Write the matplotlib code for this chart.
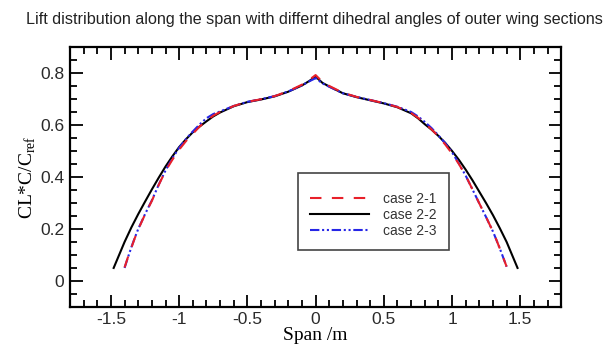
import matplotlib
matplotlib.use("Agg")
import matplotlib.pyplot as plt
from matplotlib.ticker import MultipleLocator, FuncFormatter

TITLE = "Lift distribution along the span with differnt dihedral angles of outer wing sections"

# spanwise stations (m) and sectional lift CL*C/Cref for each case
span_2_1 = [-1.40, -1.375, -1.35, -1.325, -1.30, -1.25, -1.20, -1.15, -1.10, -1.05, -1.00,
            -0.95, -0.90, -0.85, -0.80, -0.75, -0.70, -0.60, -0.50, -0.40, -0.30, -0.20,
            -0.10, -0.05, 0.00, 0.05, 0.10, 0.20, 0.30, 0.40, 0.50, 0.60, 0.70, 0.75,
            0.80, 0.85, 0.90, 0.95, 1.00, 1.05, 1.10, 1.15, 1.20, 1.25, 1.30, 1.325, 1.35,
            1.375, 1.40]
cl_2_1 = [0.052, 0.092, 0.128, 0.165, 0.198, 0.256, 0.308, 0.369, 0.423, 0.466, 0.505,
          0.538, 0.566, 0.594, 0.616, 0.636, 0.650, 0.673, 0.689, 0.699, 0.711, 0.730,
          0.755, 0.772, 0.792, 0.766, 0.750, 0.724, 0.708, 0.696, 0.684, 0.669, 0.646, 0.628,
          0.606, 0.583, 0.556, 0.525, 0.490, 0.450, 0.405, 0.352, 0.298, 0.245, 0.190,
          0.158, 0.125, 0.090, 0.055]

span_2_2 = [-1.48, -1.44, -1.40, -1.35, -1.30, -1.25, -1.20, -1.15, -1.10, -1.05, -1.00,
            -0.95, -0.90, -0.85, -0.80, -0.75, -0.70, -0.60, -0.50, -0.40, -0.30, -0.20,
            -0.10, -0.05, 0.00, 0.05, 0.10, 0.20, 0.30, 0.40, 0.50, 0.60, 0.70, 0.75,
            0.80, 0.85, 0.90, 0.95, 1.00, 1.05, 1.10, 1.15, 1.20, 1.25, 1.30, 1.35, 1.40,
            1.44, 1.48]
cl_2_2 = [0.050, 0.100, 0.150, 0.206, 0.257, 0.305, 0.352, 0.397, 0.440, 0.479, 0.515,
          0.545, 0.572, 0.594, 0.614, 0.633, 0.648, 0.672, 0.688, 0.698, 0.710, 0.728,
          0.752, 0.768, 0.786, 0.762, 0.748, 0.722, 0.707, 0.695, 0.683, 0.668, 0.645, 0.626,
          0.603, 0.582, 0.558, 0.531, 0.500, 0.466, 0.428, 0.387, 0.343, 0.299, 0.253,
          0.203, 0.150, 0.100, 0.050]

span_2_3 = [-1.40, -1.375, -1.35, -1.325, -1.30, -1.25, -1.20, -1.15, -1.10, -1.05, -1.00,
            -0.95, -0.90, -0.85, -0.80, -0.75, -0.70, -0.60, -0.50, -0.40, -0.30, -0.20,
            -0.10, -0.05, 0.00, 0.05, 0.10, 0.20, 0.30, 0.40, 0.50, 0.60, 0.70, 0.75,
            0.80, 0.85, 0.90, 0.95, 1.00, 1.05, 1.10, 1.15, 1.20, 1.25, 1.30, 1.325, 1.35,
            1.375, 1.40]
cl_2_3 = [0.050, 0.091, 0.130, 0.166, 0.200, 0.257, 0.310, 0.370, 0.425, 0.472, 0.512,
          0.546, 0.575, 0.602, 0.626, 0.642, 0.652, 0.673, 0.689, 0.699, 0.711, 0.729,
          0.752, 0.767, 0.780, 0.760, 0.747, 0.722, 0.708, 0.696, 0.684, 0.670, 0.650, 0.633,
          0.612, 0.588, 0.560, 0.530, 0.495, 0.452, 0.405, 0.352, 0.298, 0.245, 0.190,
          0.158, 0.125, 0.090, 0.055]

labels = ["case 2-1", "case 2-2", "case 2-3"]

fig = plt.figure(figsize=(6.14, 3.48), dpi=100)
ax = fig.add_axes([0.114, 0.118, 0.800, 0.747])

lw = 1.5
ax.plot(span_2_2, cl_2_2, color="black", lw=lw, label=labels[1], zorder=2)
ax.plot(span_2_3, cl_2_3, color="#2626e6", lw=lw, label=labels[2],
        dashes=(4.5, 1.3, 1.0, 1.3, 1.0, 1.3), zorder=3)
ax.plot(span_2_1, cl_2_1, color="#e8202a", lw=lw, label=labels[0],
        dashes=(5.5, 5.0), zorder=4)

ax.set_xlim(-1.8, 1.8)
ax.set_ylim(-0.1, 0.9)
ax.xaxis.set_major_locator(MultipleLocator(0.5))
ax.xaxis.set_minor_locator(MultipleLocator(0.1))
ax.yaxis.set_major_locator(MultipleLocator(0.2))
ax.yaxis.set_minor_locator(MultipleLocator(0.05))
ax.xaxis.set_major_formatter(FuncFormatter(lambda v, p: f"{v:g}"))
ax.yaxis.set_major_formatter(FuncFormatter(lambda v, p: f"{v:g}"))

ax.tick_params(which="both", direction="in", top=True, right=True, width=1.3,
               colors="black", labelcolor="#2a2a2a", labelsize=12.5, pad=4)
ax.tick_params(which="major", length=9)
ax.tick_params(which="minor", length=5)
for s in ax.spines.values():
    s.set_linewidth(1.6)

ax.set_xlabel("Span /m", family="Liberation Serif", fontsize=14, labelpad=0)
ax.set_ylabel(r"CL*C/C$_{\mathregular{ref}}$", family="Liberation Serif", fontsize=14,
              labelpad=2)
for t in ax.get_xticklabels() + ax.get_yticklabels():
    t.set_family("Liberation Sans")

fig.text(0.512, 0.943, TITLE, ha="center", va="center", family="Liberation Sans",
         fontsize=11.6, color="#222222")

handles, labs = ax.get_legend_handles_labels()
order = [labs.index(l) for l in labels]
leg = ax.legend([handles[i] for i in order], [labs[i] for i in order],
                loc="upper left", bbox_to_anchor=(0.464, 0.515), borderaxespad=0,
                prop={"family": "Liberation Sans", "size": 10}, labelcolor="#333333",
                handlelength=4.2, handletextpad=1.0, borderpad=0.9, labelspacing=0.15,
                fancybox=False, edgecolor="#444444", framealpha=1,
                title=" ", title_fontproperties={"size": 3})
leg.get_frame().set_linewidth(1.2)

fig.savefig("out.png", dpi=100)
